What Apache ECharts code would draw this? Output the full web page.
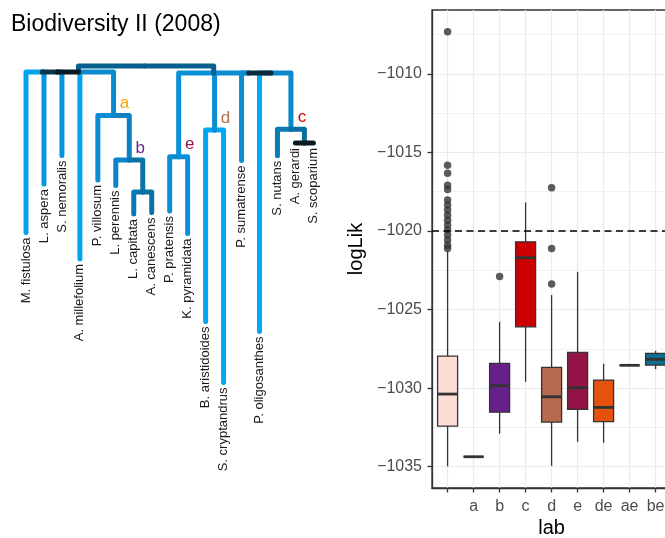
<!DOCTYPE html>
<html><head><meta charset="utf-8">
<script src="https://cdn.jsdelivr.net/npm/echarts@6/dist/echarts.min.js"></script>
<style>html,body{margin:0;padding:0;background:#fff}#c{width:665px;height:538px}</style>
</head><body><div id="c"></div>
<script>
// ---------------- tree data ----------------
const treeNodes  = ['root','Lc','N1','N2','M. fistulosa','L. aspera','S. nemoralis','A. millefolium','a','P. villosum','b','L. perennis','bin','L. capitata','A. canescens','Rc','e','P. pratensis','K. pyramidata','d','B. aristidoides','S. cryptandrus','M1','P. sumatrense','M2','P. oligosanthes','c','S. nutans','X','A. gerardi','S. scoparium'];
const treeParent = [null,'root','Lc','N1','N2','N2','N1','Lc','Lc','a','a','b','b','bin','bin','root','Rc','e','e','Rc','d','d','Rc','M1','M1','M2','M2','c','c','X','X'];
// horizontal position in tip units
const treeX      = [6.6,2.92,1.75,0.9,0,1,2,3,4.875,4,5.75,5,6.5,6,7,10.45,8.5,8,9,10.5,10,11,12.4,12,13.65,13,14.75,14,15.5,15,16];
// depth from root (branch length units)
const treeDepth  = [0,0.6,0.6,0.6,16.65,11.8,8.95,19.3,4.95,11.4,9.4,11.95,12.6,14.8,14.65,0.7,9.07,14.5,16.75,6.4,25.55,31.65,0.7,9.45,0.7,26.55,6.33,8.98,7.7,7.7,7.7];
// branch rate (mapped to colour)
const treeRate   = [0,0.37,0.0,0.12,0.96,0.88,0.86,0.97,0.78,0.8,0.7,0.73,0.55,0.6,0.52,0.37,0.82,0.8,0.83,0.8,1,1,0.8,0.8,0.08,1,0.76,0.63,0.5,0,0];
const cladeNames = ['a','b','c','d','e'];

// ---------------- boxplot data ----------------
const cats      = ['', 'a', 'b', 'c', 'd', 'e', 'de', 'ae', 'be'];
const boxLower  = [-1034.98,-1034.37,-1032.90,-1029.60,-1034.95,-1033.42,-1033.48,-1028.55,-1028.79];
const boxQ1     = [-1032.42,-1034.37,-1031.53,-1026.10,-1032.16,-1031.36,-1032.14,-1028.55,-1028.54];
const boxMedian = [-1030.38,-1034.37,-1029.85,-1021.70,-1030.55,-1029.98,-1031.23,-1028.55,-1028.17];
const boxQ3     = [-1027.96,-1034.37,-1028.43,-1020.69,-1028.68,-1027.73,-1029.49,-1028.55,-1027.79];
const boxUpper  = [-1021.30,-1034.37,-1025.78,-1018.18,-1024.08,-1022.60,-1028.45,-1028.55,-1027.63];
const outliersBlank = [-1007.32,-1015.81,-1016.33,-1017.08,-1017.35,-1018.03,-1018.35,-1018.67,-1018.99,-1019.31,-1019.62,-1019.94,-1020.26,-1020.58,-1020.90,-1021.11];
const outliersB = [-1022.89];
const outliersD = [-1017.25,-1021.11,-1023.38];
const refLine = -1020;
const yTicks = [-1035,-1030,-1025,-1020,-1015,-1010];
const yMinorTicks = [-1032.5,-1027.5,-1022.5,-1017.5,-1012.5,-1007.5];

// ---------------- styles ----------------
const FONT = '"Liberation Sans", Arial, Helvetica, sans-serif';
const boxFills = {'':'#FBDFD7','a':'#F5A700','b':'#66208A','c':'#CC0000','d':'#B5694D','e':'#931446','de':'#E55210','ae':'#2E7D32','be':'#0E6E8F'};
const cladeColors = {'a':'#F5A700','b':'#70288F','c':'#D40000','d':'#BD6D4F','e':'#9A1650'};
const rampStops = [[0,'#0A1A25'],[0.12,'#0C3348'],[0.37,'#075F8E'],[0.5,'#0A6E9F'],[0.6,'#0A78B4'],[0.7,'#0A82C2'],[0.8,'#0A8DD2'],[0.9,'#039BE2'],[1,'#00A8F3']];
function hex2rgb(h){return [parseInt(h.slice(1,3),16),parseInt(h.slice(3,5),16),parseInt(h.slice(5,7),16)];}
function ramp(t){
  for(let i=1;i<rampStops.length;i++){
    if(t<=rampStops[i][0]){
      const a=rampStops[i-1], b=rampStops[i];
      const f=(t-a[0])/(b[0]-a[0]);
      const ca=hex2rgb(a[1]), cb=hex2rgb(b[1]);
      return 'rgb('+ca.map((v,k)=>Math.round(v+(cb[k]-v)*f)).join(',')+')';
    }
  }
  return rampStops[rampStops.length-1][1];
}

// ---------------- build rows ----------------
const idx = {}; treeNodes.forEach((n,i)=>idx[n]=i);
const branchRows = [];
treeNodes.forEach((n,i)=>{
  const p = treeParent[i]; if(p===null) return;
  const j = idx[p];
  branchRows.push([treeX[i], treeDepth[i], treeX[j], treeDepth[j], treeRate[i]]);
});
branchRows.sort((a,b)=>b[4]-a[4]);
const hasChild = new Set(treeParent.filter(p=>p!==null));
const tipNames = treeNodes.filter(n=>!hasChild.has(n));
const tipRows = tipNames.map(n=>[treeX[idx[n]], treeDepth[idx[n]]]);
const cladeRows = cladeNames.map(n=>[treeX[idx[n]], treeDepth[idx[n]]]);
const boxRows = cats.map((c,i)=>[i, boxLower[i], boxQ1[i], boxMedian[i], boxQ3[i], boxUpper[i]]);
const outlierRows = [].concat(
  outliersBlank.map(v=>[cats.indexOf(''), v]),
  outliersB.map(v=>[cats.indexOf('b'), v]),
  outliersD.map(v=>[cats.indexOf('d'), v]));

function branchItem(params, api){
  const p0 = api.coord([api.value(2), api.value(3)]);
  const p1 = api.coord([api.value(0), api.value(3)]);
  const p2 = api.coord([api.value(0), api.value(1)]);
  return {type:'polyline', shape:{points:[p0,p1,p2]},
    style:{stroke: ramp(api.value(4)), lineWidth:5, fill:'none', lineCap:'round', lineJoin:'round'}};
}
function tipItem(params, api){
  const p = api.coord([api.value(0), api.value(1)]);
  return {type:'text', x:p[0], y:p[1]+5, rotation:Math.PI/2,
    style:{text: tipNames[params.dataIndex], fill:'#1A1A1A', font:'13px '+FONT, align:'right', verticalAlign:'middle'}};
}
function cladeItem(params, api){
  const p = api.coord([api.value(0), api.value(1)]);
  const n = cladeNames[params.dataIndex];
  return {type:'text', x:p[0]+11, y:p[1]-12,
    style:{text:n, fill:cladeColors[n], font:'17px '+FONT, align:'center', verticalAlign:'middle'}};
}
function boxItem(params, api){
  const i = api.value(0);
  const lo = api.coord([i, api.value(1)]), q1 = api.coord([i, api.value(2)]),
        md = api.coord([i, api.value(3)]), q3 = api.coord([i, api.value(4)]),
        hi = api.coord([i, api.value(5)]);
  const w = api.size([0.77, 0])[0];
  const x0 = lo[0]-w/2;
  const fill = boxFills[cats[params.dataIndex]];
  const st = {stroke:'#333333', lineWidth:1.3};
  return {type:'group', children:[
    {type:'line', shape:{x1:lo[0],y1:lo[1],x2:lo[0],y2:q1[1]}, style:st},
    {type:'line', shape:{x1:lo[0],y1:q3[1],x2:lo[0],y2:hi[1]}, style:st},
    {type:'rect', shape:{x:x0,y:q3[1],width:w,height:q1[1]-q3[1]}, style:{fill:fill, stroke:'#333333', lineWidth:1.3}},
    {type:'line', shape:{x1:x0,y1:md[1],x2:x0+w,y2:md[1]}, style:{stroke:'#333333', lineWidth:2.8}}
  ]};
}

const xTickVals = cats.map((c,i)=>i);
const chart = echarts.init(document.getElementById('c'), null, {renderer:'canvas'});
chart.setOption({
  animation:false,
  backgroundColor:'#ffffff',
  textStyle:{fontFamily:FONT},
  title:{text:'Biodiversity II (2008)', left:6, top:8, textStyle:{fontSize:23, fontWeight:'normal', color:'#000', fontFamily:FONT}},
  grid:[
    {left:8.04, top:66, width:323.3, height:400, outerBoundsMode:'none', containLabel:false},
    {left:432, top:10, width:239.2, height:478, outerBoundsMode:'none', containLabel:false,
     show:true, borderColor:'#333333', borderWidth:1.3, backgroundColor:'#ffffff'}
  ],
  xAxis:[
    {gridIndex:0, type:'value', min:-1, max:17, show:false},
    {gridIndex:1, type:'value', min:-0.6, max:8.6,
     axisLine:{show:true, onZero:false, lineStyle:{color:'#333333', width:1.3}},
     axisTick:{show:true, customValues:xTickVals, length:4.5, lineStyle:{color:'#333333', width:1.3}},
     axisLabel:{customValues:xTickVals, formatter:v=>cats[Math.round(v)], fontSize:16, color:'#4D4D4D', margin:11, fontFamily:FONT},
     splitLine:{show:true, lineStyle:{color:'#EBEBEB', width:1.2}},
     name:'lab', nameLocation:'middle', nameGap:30, nameMoveOverlap:false,
     nameTextStyle:{fontSize:20, color:'#000', fontFamily:FONT}}
  ],
  yAxis:[
    {gridIndex:0, type:'value', min:0, max:40, inverse:true, show:false},
    {gridIndex:1, type:'value', min:-1036.36, max:-1005.93,
     axisLine:{show:true, onZero:false, lineStyle:{color:'#333333', width:1.3}},
     axisTick:{show:true, customValues:yTicks, length:4.5, lineStyle:{color:'#333333', width:1.3}},
     axisLabel:{customValues:yTicks, formatter:v=>(v<0?'\u2212':'')+Math.abs(v), fontSize:16, color:'#4D4D4D', margin:10, fontFamily:FONT},
     splitLine:{show:true, lineStyle:{color:'#EBEBEB', width:1.2}},
     name:'logLik', nameLocation:'middle', nameGap:66, nameMoveOverlap:false,
     nameTextStyle:{fontSize:20, color:'#000', fontFamily:FONT}},
    {gridIndex:1, type:'value', position:'right', min:-1036.36, max:-1005.93,
     axisLine:{show:false}, axisTick:{show:false, customValues:yMinorTicks},
     axisLabel:{show:false, customValues:yMinorTicks},
     splitLine:{show:true, lineStyle:{color:'#EBEBEB', width:0.7}}}
  ],
  series:[
    {type:'custom', xAxisIndex:0, yAxisIndex:0, data:branchRows, renderItem:branchItem, silent:true, clip:false, z:2},
    {type:'custom', xAxisIndex:0, yAxisIndex:0, data:tipRows, renderItem:tipItem, silent:true, clip:false, z:3},
    {type:'custom', xAxisIndex:0, yAxisIndex:0, data:cladeRows, renderItem:cladeItem, silent:true, clip:false, z:3},
    {type:'custom', xAxisIndex:1, yAxisIndex:1, data:boxRows, renderItem:boxItem, silent:true, clip:false, z:3},
    {type:'scatter', xAxisIndex:1, yAxisIndex:1, data:outlierRows, symbol:'circle', symbolSize:7.5,
     itemStyle:{color:'#333333'}, silent:true, z:4,
     markLine:{silent:true, symbol:['none','none'], label:{show:false},
       lineStyle:{color:'#000000', type:[7,4.5], width:1.5}, data:[{yAxis:refLine}]}}
  ]
});
</script>
</body></html>
